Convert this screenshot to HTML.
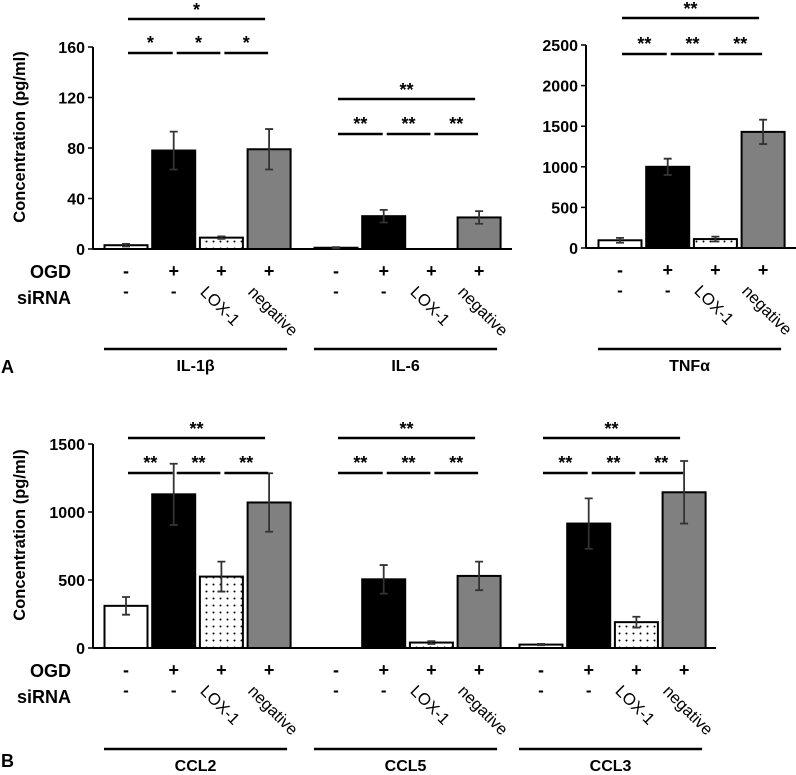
<!DOCTYPE html>
<html><head><meta charset="utf-8"><style>
html,body{margin:0;padding:0;background:#fff;width:796px;height:775px;overflow:hidden}
svg text{font-family:"Liberation Sans",Arial,sans-serif;fill:#000}
</style></head><body>
<svg id="chart" width="796" height="775" viewBox="0 0 796 775" xmlns="http://www.w3.org/2000/svg">
<defs>
<pattern id="dots" width="7" height="7" patternUnits="userSpaceOnUse"><rect width="7" height="7" fill="#fff"/><circle cx="3.5" cy="3.5" r="1" fill="#000"/></pattern>
</defs>
</svg>
<script>
const groupNames = ["IL-1β","IL-6","TNFα","CCL2","CCL5","CCL3"];
const ogdLabels = ["-","+","+","+"];
const siLabels = ["-","-","LOX-1","negative"];
const meansIL1b = [3,78,9,79];
const errsIL1b = [1,15,1,16];
const meansIL6 = [1,26,0,25];
const errsIL6 = [0.5,5,0,5];
const meansTNF = [95,1000,110,1430];
const errsTNF = [30,100,30,150];
const meansCCL2 = [310,1130,525,1070];
const errsCCL2 = [65,225,110,215];
const meansCCL5 = [0,505,40,530];
const errsCCL5 = [0,105,10,105];
const meansCCL3 = [25,915,190,1145];
const errsCCL3 = [5,185,40,230];
const ticksA1 = [0,40,80,120,160];
const ticksA3 = [0,500,1000,1500,2000,2500];
const ticksB = [0,500,1000,1500];
const sigA1 = ["*","*","*","*"];
const sigOther = ["**","**","**","**"];

const NS="http://www.w3.org/2000/svg";
const svg=document.getElementById('chart');
function mk(tag,attrs,parent,txt){const e=document.createElementNS(NS,tag);for(const k in attrs)e.setAttribute(k,attrs[k]);if(txt!==undefined)e.textContent=txt;(parent||svg).appendChild(e);return e;}

const fills=["#fff","#000","url(#dots)","#808080"];
const groups=[
 {name:groupNames[0],m:meansIL1b,e:errsIL1b,x0:126,ax:93,y0:249,yTop:47,max:160,ticks:ticksA1,axis:true,sig:sigA1,topY:19,lowY:53,lineY:349},
 {name:groupNames[1],m:meansIL6,e:errsIL6,x0:336,ax:93,y0:249,yTop:47,max:160,ticks:null,sig:sigOther,topY:99,lowY:134,lineY:349},
 {name:groupNames[2],m:meansTNF,e:errsTNF,x0:620,ax:586,y0:248,yTop:45,max:2500,ticks:ticksA3,axis:true,sig:sigOther,topY:18,lowY:54,lineY:349},
 {name:groupNames[3],m:meansCCL2,e:errsCCL2,x0:126,ax:93,y0:648,yTop:444,max:1500,ticks:ticksB,axis:true,sig:sigOther,topY:438,lowY:473,lineY:749},
 {name:groupNames[4],m:meansCCL5,e:errsCCL5,x0:336,ax:93,y0:648,yTop:444,max:1500,ticks:null,sig:sigOther,topY:438,lowY:473,lineY:749},
 {name:groupNames[5],m:meansCCL3,e:errsCCL3,x0:541,ax:93,y0:648,yTop:444,max:1500,ticks:null,sig:sigOther,topY:438,lowY:473,lineY:749}
];
const step=47.7, bw=43;
const baselines=[[93,512,249],[586,796,248],[93,716,648]];
baselines.forEach((b,i)=>{const l=mk('line',{x1:b[0],x2:b[1],y1:b[2],y2:b[2],stroke:'#000','stroke-width':2});

});

groups.forEach((g,gi)=>{
 const gEl=mk('g',{});
 
 
 const ys=v=>g.y0-(v/g.max)*(g.y0-g.yTop);
 if(g.axis){
  const a=mk('line',{x1:g.ax,x2:g.ax,y1:g.yTop,y2:g.y0,stroke:'#000','stroke-width':2},gEl);
  
  
  g.ticks.forEach(t=>{
   mk('line',{x1:g.ax-5,x2:g.ax,y1:ys(t),y2:ys(t),stroke:'#000','stroke-width':1.5},gEl);
   const tx=mk('text',{x:g.ax-8,y:ys(t)+6,'text-anchor':'end','font-size':16,'font-weight':'bold'},gEl,String(t));
   
   
  });
 }
 const cx=i=>g.x0+i*step;
 g.m.forEach((v,i)=>{
  const h=g.y0-ys(v);
  if(v>0){
   const r=mk('rect',{x:cx(i)-bw/2,y:ys(v),width:bw,height:Math.max(h,1),fill:fills[i],stroke:'#000','stroke-width':2},gEl);
   
   
  }
  if(g.e[i]>0){
   const yt=ys(v+g.e[i]),yb=ys(Math.max(v-g.e[i],0));
   const eb=mk('path',{d:`M${cx(i)},${yt}V${yb}M${cx(i)-4},${yt}H${cx(i)+4}M${cx(i)-4},${yb}H${cx(i)+4}`,stroke:'#333','stroke-width':1.8,fill:'none'},gEl);
   
   
  }
  const o=mk('text',{x:cx(i),y:g.y0+28,'text-anchor':'middle','font-size':18,'font-weight':'bold'},gEl,ogdLabels[i]);
  
  
  const sy=g.y0+48;
  let s;
  if(i<2) s=mk('text',{x:cx(i),y:sy,'text-anchor':'middle','font-size':17,'font-weight':'bold'},gEl,siLabels[i]);
  else { s=mk('text',{x:0,y:0,'font-size':16.5,transform:`translate(${cx(i)-22},${sy-4}) rotate(45)`},gEl,siLabels[i]); }
  
  
 });
 const lx=cx(0)+2, rx=cx(3)-4;
 const tl=mk('line',{x1:lx,x2:rx,y1:g.topY,y2:g.topY,stroke:'#000','stroke-width':2.5},gEl);
 
 
 const ts=mk('text',{x:(lx+rx)/2,y:g.topY-3,'text-anchor':'middle','font-size':18,'font-weight':'bold'},gEl,g.sig[0]);
 
 
 for(let k=0;k<3;k++){
  const a=cx(k)+2+(k>0?1:0), b=cx(k+1)-1;
  const ll=mk('line',{x1:a,x2:b,y1:g.lowY,y2:g.lowY,stroke:'#000','stroke-width':2.5},gEl);
  
  
  const st=mk('text',{x:(a+b)/2,y:g.lowY-4,'text-anchor':'middle','font-size':18,'font-weight':'bold'},gEl,g.sig[k+1]);
  
  
 }
 const gl=mk('line',{x1:cx(0)-22,x2:cx(3)+18,y1:g.lineY,y2:g.lineY,stroke:'#000','stroke-width':2.5},gEl);
 
 
 const gt=mk('text',{x:(cx(0)+cx(3))/2-2,y:g.lineY+22,'text-anchor':'middle','font-size':16,'font-weight':'bold'},gEl,g.name);
 
 
});
[[249,'A',373],[648,'B',767]].forEach(p=>{
 const a=mk('text',{x:30,y:p[0]+29,'font-size':18,'font-weight':'bold'},svg,'OGD');
 
 
 const b=mk('text',{x:17,y:p[0]+55,'font-size':18,'font-weight':'bold'},svg,'siRNA');
 
 
 const c=mk('text',{x:1,y:p[2],'font-size':18,'font-weight':'bold'},svg,p[1]);
 
 
});
[[137],[535]].forEach(p=>{
 const t=mk('text',{x:0,y:0,'font-size':16.5,'font-weight':'bold','text-anchor':'middle',transform:`translate(25,${p[0]}) rotate(-90)`},svg,'Concentration (pg/ml)');
 
 
});
</script>
</body></html>
